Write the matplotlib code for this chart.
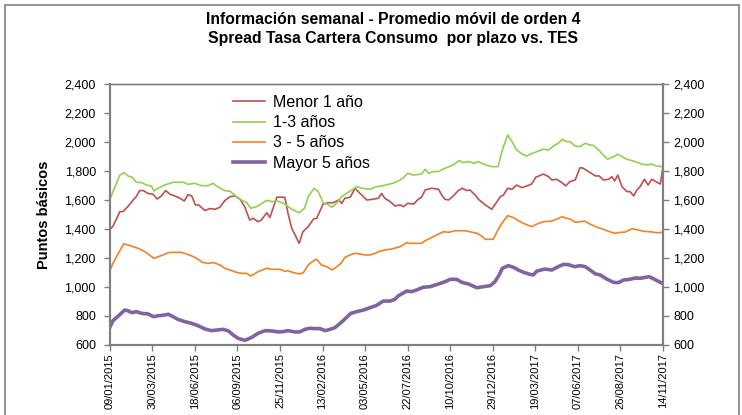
import pandas as pd
import matplotlib
matplotlib.use("Agg")
import matplotlib.pyplot as plt
import matplotlib.dates as mdates
from matplotlib.patches import Rectangle
from matplotlib.ticker import FuncFormatter, MultipleLocator

# dias desde 09/01/2015 (puntos basicos)
dias_menor1 = [0, 6, 19, 25, 34, 44, 50, 56, 63, 72, 81, 89, 97, 105, 113, 122, 132, 140,
               147, 154, 161, 167, 179, 188, 198, 207, 216, 226, 235, 245, 254, 263, 270,
               278, 285, 295, 301, 314, 329, 335, 342, 351, 356, 363, 373, 383, 389, 401,
               411, 420, 430, 436, 442, 452, 461, 467, 483, 495, 505, 511, 517, 527, 536,
               546, 552, 560, 571, 580, 586, 593, 605, 618, 624, 630, 637, 646, 655, 663,
               671, 677, 687, 693, 706, 718, 728, 734, 740, 748, 756, 765, 775, 784, 793,
               801, 815, 825, 831, 840, 850, 857, 865, 875, 884, 890, 903, 913, 920, 928,
               938, 944, 949, 955, 963, 972, 978, 985, 991, 997, 1005, 1012, 1019, 1027,
               1035, 1039]
menor1 = [1395, 1420, 1520, 1520, 1555, 1600, 1625, 1665, 1665, 1645, 1640, 1607, 1628,
          1665, 1640, 1628, 1612, 1593, 1637, 1628, 1566, 1566, 1527, 1541, 1536, 1550,
          1595, 1623, 1628, 1605, 1550, 1462, 1474, 1450, 1462, 1512, 1480, 1619, 1619,
          1508, 1405, 1340, 1301, 1381, 1416, 1469, 1474, 1572, 1581, 1581, 1600, 1577,
          1612, 1619, 1681, 1658, 1600, 1605, 1612, 1646, 1612, 1589, 1559, 1566, 1554,
          1577, 1572, 1605, 1619, 1669, 1681, 1674, 1634, 1605, 1600, 1628, 1665, 1681,
          1665, 1669, 1634, 1605, 1566, 1536, 1589, 1623, 1634, 1681, 1674, 1703, 1685,
          1697, 1710, 1757, 1779, 1761, 1738, 1743, 1720, 1697, 1726, 1738, 1823, 1819,
          1789, 1766, 1766, 1738, 1743, 1761, 1731, 1772, 1692, 1658, 1658, 1628, 1669,
          1692, 1743, 1703, 1743, 1726, 1710, 1807]

dias_1a3 = [0, 6, 19, 27, 34, 42, 50, 60, 69, 78, 83, 91, 103, 119, 138, 147, 160, 172,
            185, 194, 204, 216, 226, 235, 241, 251, 257, 265, 276, 295, 304, 317, 329, 342,
            356, 366, 373, 384, 392, 401, 411, 418, 426, 436, 445, 455, 464, 474, 489, 502,
            511, 524, 536, 546, 552, 560, 571, 586, 593, 599, 609, 618, 630, 643, 657, 665,
            675, 684, 693, 706, 718, 730, 738, 748, 756, 765, 775, 784, 790, 806, 815, 825,
            834, 843, 851, 857, 865, 875, 884, 894, 903, 909, 919, 928, 936, 947, 955, 963,
            972, 982, 991, 1000, 1010, 1019, 1027, 1039]
de1a3 = [1605, 1658, 1772, 1789, 1766, 1757, 1722, 1720, 1703, 1697, 1662, 1681, 1703,
         1722, 1722, 1708, 1715, 1699, 1699, 1715, 1688, 1665, 1660, 1634, 1612, 1593,
         1584, 1543, 1554, 1598, 1589, 1591, 1572, 1536, 1512, 1543, 1623, 1681, 1658,
         1581, 1566, 1550, 1577, 1623, 1646, 1669, 1692, 1681, 1674, 1692, 1697, 1708,
         1720, 1738, 1754, 1784, 1772, 1779, 1812, 1784, 1796, 1796, 1819, 1837, 1871,
         1858, 1865, 1853, 1865, 1842, 1830, 1830, 1945, 2048, 2003, 1945, 1917, 1903,
         1915, 1938, 1950, 1945, 1972, 1991, 2019, 2003, 2003, 1972, 1968, 1991, 1979,
         1977, 1945, 1910, 1881, 1899, 1915, 1899, 1881, 1871, 1860, 1848, 1842, 1848,
         1834, 1830]

dias_3a5 = [0, 6, 16, 26, 34, 44, 53, 63, 72, 83, 91, 100, 110, 119, 135, 144, 154, 163,
            174, 185, 196, 207, 216, 226, 238, 248, 257, 265, 279, 295, 304, 320, 329, 335,
            345, 357, 364, 373, 383, 389, 398, 410, 418, 427, 436, 442, 452, 461, 470, 480,
            489, 499, 505, 517, 530, 546, 558, 564, 586, 593, 602, 615, 627, 637, 649, 668,
            677, 690, 699, 706, 721, 728, 737, 748, 759, 775, 786, 793, 803, 815, 831, 840,
            850, 859, 865, 875, 884, 892, 903, 916, 928, 938, 949, 960, 969, 982, 994, 1003,
            1016, 1029, 1039]
de3a5 = [1112, 1163, 1232, 1297, 1290, 1278, 1267, 1250, 1228, 1198, 1209, 1221, 1237,
         1239, 1239, 1228, 1214, 1198, 1170, 1163, 1168, 1152, 1129, 1117, 1101, 1094,
         1094, 1076, 1106, 1129, 1122, 1122, 1108, 1112, 1099, 1090, 1099, 1152, 1181,
         1191, 1152, 1136, 1117, 1140, 1168, 1205, 1221, 1232, 1228, 1221, 1221, 1232,
         1244, 1255, 1262, 1278, 1306, 1301, 1301, 1319, 1336, 1359, 1381, 1377, 1388,
         1388, 1381, 1370, 1352, 1329, 1329, 1381, 1439, 1492, 1478, 1443, 1426, 1416,
         1434, 1450, 1455, 1467, 1485, 1474, 1469, 1446, 1450, 1455, 1434, 1412, 1398,
         1384, 1370, 1377, 1379, 1402, 1393, 1384, 1381, 1374, 1377]

dias_mayor5 = [0, 6, 16, 28, 34, 41, 50, 60, 72, 82, 91, 100, 110, 119, 128, 141, 154, 166,
               179, 191, 201, 213, 223, 232, 241, 254, 267, 279, 292, 304, 317, 326, 335, 348,
               357, 367, 376, 386, 395, 405, 414, 423, 433, 442, 453, 464, 477, 489, 502, 514,
               527, 536, 542, 558, 568, 580, 589, 602, 618, 630, 640, 652, 662, 674, 690, 702,
               715, 724, 732, 738, 749, 759, 768, 778, 790, 796, 803, 818, 831, 843, 853, 862,
               874, 884, 894, 903, 913, 922, 935, 947, 956, 966, 978, 988, 997, 1014, 1024,
               1039]
mayor5 = [722, 768, 800, 841, 836, 823, 830, 818, 814, 795, 802, 805, 812, 795, 777, 761,
          749, 733, 710, 699, 703, 708, 697, 669, 646, 632, 653, 681, 699, 697, 690, 692,
          699, 690, 690, 708, 715, 713, 713, 699, 708, 719, 749, 779, 818, 830, 841, 857,
          874, 903, 903, 915, 938, 972, 968, 984, 998, 1002, 1021, 1036, 1053, 1053, 1032,
          1021, 995, 1002, 1009, 1036, 1083, 1129, 1147, 1136, 1117, 1101, 1087, 1083, 1110,
          1124, 1117, 1140, 1156, 1154, 1140, 1147, 1140, 1117, 1090, 1083, 1053, 1032, 1030,
          1048, 1053, 1062, 1060, 1071, 1053, 1025]

fecha0 = pd.Timestamp("2015-01-09")
fecha1 = pd.Timestamp("2017-11-14")


def fechas(dias):
    return fecha0 + pd.to_timedelta(dias, unit="D")


plt.rcParams['font.family'] = ['Liberation Sans', 'DejaVu Sans']

fig = plt.figure(figsize=(7.42, 4.15), dpi=100)
ax = fig.add_axes([0.148, 0.1687, 0.7455, 0.6289])

ax.plot(fechas(dias_menor1), menor1, color='#C0504D', lw=1.2, label='Menor 1 año')
ax.plot(fechas(dias_1a3), de1a3, color='#92D050', lw=1.2, label='1-3 años')
ax.plot(fechas(dias_3a5), de3a5, color='#F58220', lw=1.2, label='3 - 5 años')
ax.plot(fechas(dias_mayor5), mayor5, color='#8064A2', lw=2.6, label='Mayor 5 años')

ax.set_xlim(fecha0, fecha1)
ax.set_ylim(600, 2400)
ax.yaxis.set_major_locator(MultipleLocator(200))
fmt = FuncFormatter(lambda v, p: f'{int(v):,}')
ax.yaxis.set_major_formatter(fmt)

ticks = pd.date_range(fecha0, fecha1, freq='80D')
ax.set_xticks(ticks)
ax.xaxis.set_major_formatter(mdates.DateFormatter('%d/%m/%Y'))

ax2 = ax.twinx()
ax2.set_ylim(600, 2400)
ax2.yaxis.set_major_locator(MultipleLocator(200))
ax2.yaxis.set_major_formatter(fmt)

for a in (ax, ax2):
    for s in a.spines.values():
        s.set_color('#808080')
        s.set_linewidth(1.5)
    a.spines['top'].set_linewidth(1.0)
    a.tick_params(colors='#808080', labelcolor='black', labelsize=9, length=4, width=1)

ax.tick_params(axis='y', pad=6)
ax.tick_params(axis='x', labelsize=8, pad=2)
plt.setp(ax.get_xticklabels(), rotation=90)

ax.set_ylabel('Puntos básicos', fontsize=10.5, fontweight='bold', labelpad=10)

fig.text(0.53, 0.954, 'Información semanal - Promedio móvil de orden 4',
         ha='center', va='center', fontsize=11.3, fontweight='bold')
fig.text(0.53, 0.908, 'Spread Tasa Cartera Consumo  por plazo vs. TES',
         ha='center', va='center', fontsize=11.3, fontweight='bold')

leg = ax.legend(loc='upper left', bbox_to_anchor=(0.222, 0.958), frameon=False,
                fontsize=11.5, handlelength=2.0, handletextpad=0.5,
                labelspacing=0.33, borderpad=0, borderaxespad=0)

fig.patches.append(Rectangle((5 / 742, -0.01), 734 / 742, 1.01 - 5 / 415,
                             transform=fig.transFigure, fill=False,
                             edgecolor='#808080', lw=1.2))

fig.savefig('out.png', dpi=100)
